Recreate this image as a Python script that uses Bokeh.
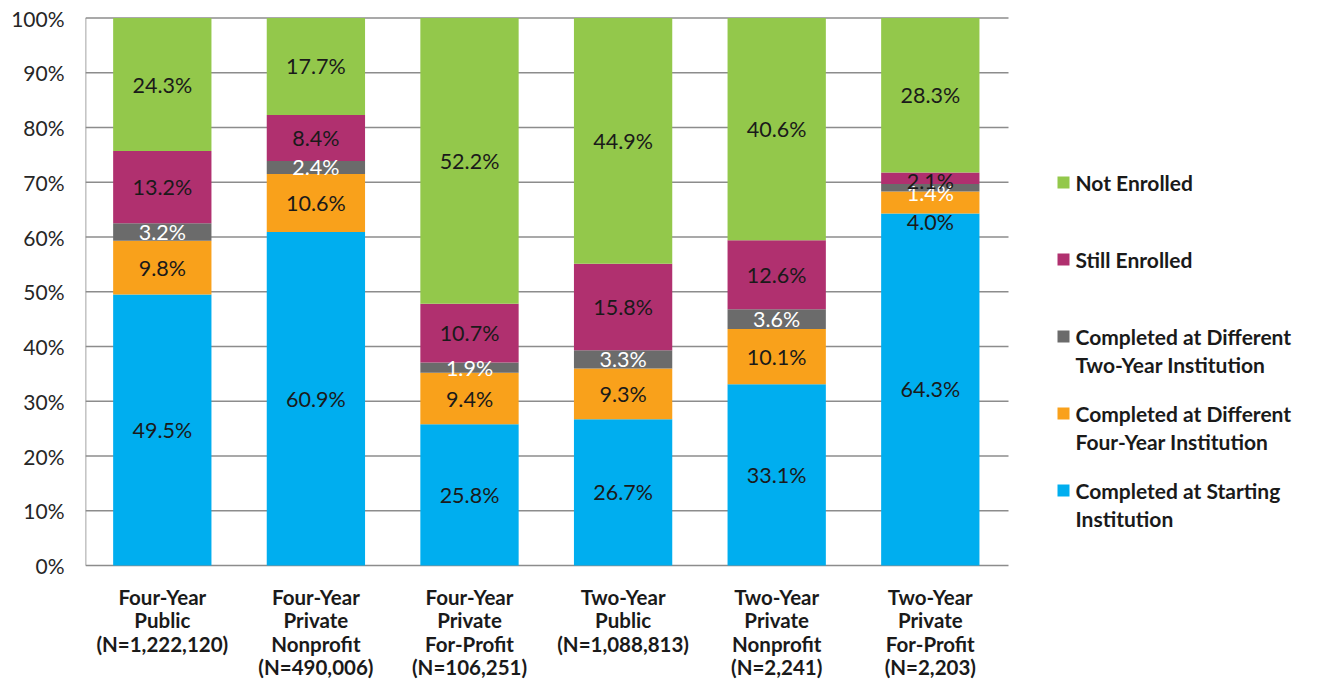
from bokeh.plotting import figure
from bokeh.models import FixedTicker, ColumnDataSource
from bokeh.core.properties import value
from bokeh.embed import file_html
from bokeh.resources import INLINE

# ---------------- data ----------------
categories = [
    "Four-Year Public (N=1,222,120)",
    "Four-Year Private Nonprofit (N=490,006)",
    "Four-Year Private For-Profit (N=106,251)",
    "Two-Year Public (N=1,088,813)",
    "Two-Year Private Nonprofit (N=2,241)",
    "Two-Year Private For-Profit (N=2,203)",
]
category_lines = [
    ["Four-Year", "Public", "(N=1,222,120)"],
    ["Four-Year", "Private", "Nonprofit", "(N=490,006)"],
    ["Four-Year", "Private", "For-Profit", "(N=106,251)"],
    ["Two-Year", "Public", "(N=1,088,813)"],
    ["Two-Year", "Private", "Nonprofit", "(N=2,241)"],
    ["Two-Year", "Private", "For-Profit", "(N=2,203)"],
]
completed_starting = [49.5, 60.9, 25.8, 26.7, 33.1, 64.3]
completed_diff_four = [9.8, 10.6, 9.4, 9.3, 10.1, 4.0]
completed_diff_two = [3.2, 2.4, 1.9, 3.3, 3.6, 1.4]
still_enrolled = [13.2, 8.4, 10.7, 15.8, 12.6, 2.1]
not_enrolled = [24.3, 17.7, 52.2, 44.9, 40.6, 28.3]

series_names = [
    "Completed at Starting Institution",
    "Completed at Different Four-Year Institution",
    "Completed at Different Two-Year Institution",
    "Still Enrolled",
    "Not Enrolled",
]
legend_lines = {
    "Not Enrolled": ["Not Enrolled"],
    "Still Enrolled": ["Still Enrolled"],
    "Completed at Different Two-Year Institution": ["Completed at Different", "Two-Year Institution"],
    "Completed at Different Four-Year Institution": ["Completed at Different", "Four-Year Institution"],
    "Completed at Starting Institution": ["Completed at Starting", "Institution"],
}
y_ticks = [0, 10, 20, 30, 40, 50, 60, 70, 80, 90, 100]

series_values = [completed_starting, completed_diff_four, completed_diff_two,
                 still_enrolled, not_enrolled]

# ---------------- styles ----------------
colors = ["#00AEEF", "#F9A11B", "#6B6B6B", "#B0306F", "#93C84B"]
label_colors = ["#1A1A1A", "#1A1A1A", "#FFFFFF", "#1A1A1A", "#1A1A1A"]
FONT = "Lato"
GRID = "#8C8C8C"
TXT = "#1A1A1A"
# manual nudges (px, down) for crowded labels, as in the original
label_nudge = {(5, 1): 19, (5, 2): 5, (5, 3): 3}

# ---------------- layout helpers (figure px -> data) ----------------
W, H = 1304, 684
FRAME_L = 85
Y0_PX, Y100_PX = 565.0, 17.5
PXU = (Y0_PX - Y100_PX) / 100.0
CAT_W = 153.6


def py(y_px):
    return (Y0_PX - y_px) / PXU


def px(x_px):
    return -0.5 + (x_px - FRAME_L) / CAT_W


y_start = py(H)
y_end = py(0)
x_end = px(W)

p = figure(width=W, height=H, x_range=(-0.5, x_end), y_range=(y_start, y_end),
           output_backend="svg", toolbar_location=None,
           min_border_left=FRAME_L, min_border_right=0,
           min_border_top=0, min_border_bottom=0)
p.outline_line_color = None
p.grid.visible = False
p.xaxis.visible = False
p.background_fill_color = "white"
p.border_fill_color = "white"

yax = p.yaxis[0]
yax.ticker = FixedTicker(ticks=y_ticks)
yax.major_label_overrides = {t: f"{t}%" for t in y_ticks}
yax.axis_line_color = None
yax.major_tick_line_color = None
yax.minor_tick_line_color = None
yax.major_tick_out = 0
yax.major_tick_in = 0
yax.major_label_standoff = 21
yax.major_label_text_font = FONT
yax.major_label_text_font_size = "21px"
yax.major_label_text_color = "#262626"

xs = list(range(len(categories)))
x_right = px(1008)

# gridlines and axis lines
p.segment(x0=[-0.5] * len(y_ticks), x1=[x_right] * len(y_ticks),
          y0=y_ticks, y1=y_ticks, line_color=GRID, line_width=1.6)
p.segment(x0=[-0.5], x1=[-0.5], y0=[0], y1=[100], line_color=GRID, line_width=1.6)

# stacked bars
bottom = [0.0] * len(xs)
lab_x, lab_y, lab_t, lab_c, lab_off = [], [], [], [], []
for si, vals in enumerate(series_values):
    top = [min(b + v, 100.0) for b, v in zip(bottom, vals)]
    p.vbar(x=xs, bottom=bottom, top=top, width=0.64,
           fill_color=colors[si], line_color=None)
    for i, v in enumerate(vals):
        lab_x.append(xs[i])
        lab_y.append((bottom[i] + top[i]) / 2.0)
        lab_t.append(f"{v:.1f}%")
        lab_c.append(label_colors[si])
        lab_off.append(label_nudge.get((i, si), 0))
    bottom = [b + v for b, v in zip(bottom, vals)]

src = ColumnDataSource(dict(x=lab_x, y=lab_y, t=lab_t, c=lab_c, off=lab_off))
p.text(x="x", y="y", text="t", text_color="c", y_offset="off", source=src,
       text_align="center", text_baseline="middle",
       text_font=value(FONT), text_font_size="21.5px")

# category labels (slightly tightened to fit the canvas height)
cx, cy, ct = [], [], []
for i, lines in enumerate(category_lines):
    for j, ln in enumerate(lines):
        cx.append(xs[i])
        cy.append(py(596 + 23.5 * j))
        ct.append(ln)
p.text(x=cx, y=cy, text=ct, text_align="center", text_baseline="middle",
       text_font=value(FONT), text_font_style="bold", text_font_size="20.5px",
       text_color=TXT)

# legend (top to bottom: reverse stacking order)
lx, ly, lc = [], [], []
tx, ty, tt = [], [], []
for k, name in enumerate(reversed(series_names)):
    si = series_names.index(name)
    y_first = 182 + 77 * k
    lx.append(px(1063))
    ly.append(py(y_first))
    lc.append(colors[si])
    for j, ln in enumerate(legend_lines[name]):
        tx.append(px(1075))
        ty.append(py(y_first + 28 * j))
        tt.append(ln)
p.scatter(x=lx, y=ly, marker="square", size=12, fill_color=lc, line_color=None)
p.text(x=tx, y=ty, text=tt, text_align="left", text_baseline="middle",
       text_font=value(FONT), text_font_style="bold", text_font_size="21px",
       text_color=TXT)

open("out.html", "w").write(file_html(p, INLINE))
